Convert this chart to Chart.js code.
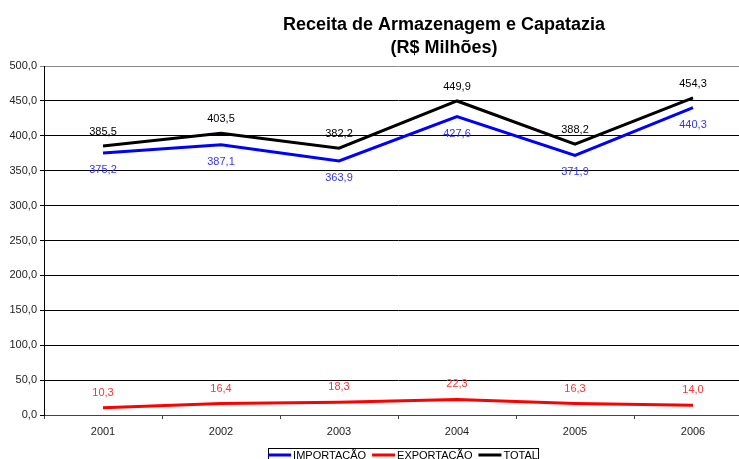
<!DOCTYPE html>
<html>
<head>
<meta charset="utf-8">
<script src="https://cdn.jsdelivr.net/npm/chart.js@4.4.0/dist/chart.umd.min.js"></script>
<style>
  html, body { margin: 0; padding: 0; background: #fff; overflow: hidden; }
  #wrap { width: 806px; height: 475px; }
</style>
</head>
<body>
<div id="wrap"><canvas id="receitaChart" width="806" height="475"></canvas></div>
<script>
const anos = ['2001', '2002', '2003', '2004', '2005', '2006'];
const importacao = [375.2, 387.1, 363.9, 427.6, 371.9, 440.3];
const exportacao = [10.3, 16.4, 18.3, 22.3, 16.3, 14.0];
const total = [385.5, 403.5, 382.2, 449.9, 388.2, 454.3];
const tituloLinhas = ['Receita de Armazenagem e Capatazia', '(R$ Milhões)'];

const FONTE = "'Liberation Sans', Arial, sans-serif";

function fmt(v) {
    return v.toFixed(1).replace('.', ',');
}

// rótulos de valor em cada ponto
const rotulosPlugin = {
    id: 'rotulos',
    afterDatasetsDraw(chart) {
        const ctx = chart.ctx;
        ctx.save();
        ctx.font = '11px ' + FONTE;
        ctx.textAlign = 'center';
        ctx.textBaseline = 'middle';
        chart.data.datasets.forEach((ds, i) => {
            const meta = chart.getDatasetMeta(i);
            ctx.fillStyle = ds.labelColor;
            meta.data.forEach((pt, j) => {
                ctx.fillText(fmt(ds.data[j]), pt.x, pt.y + ds.labelOffset);
            });
        });
        ctx.restore();
    }
};

// título e legenda desenhados à mão para acertar a posição
const extrasPlugin = {
    id: 'extras',
    afterDraw(chart) {
        const ctx = chart.ctx;
        ctx.save();
        ctx.fillStyle = '#000';
        ctx.font = 'bold 18px ' + FONTE;
        ctx.textAlign = 'center';
        ctx.textBaseline = 'middle';
        ctx.fillText(tituloLinhas[0], 444, 25);
        ctx.fillText(tituloLinhas[1], 444, 48);

        // legenda
        ctx.font = '11px ' + FONTE;
        ctx.textAlign = 'left';
        const linha = 23, gap = 2, entre = 6;
        let larg = 0;
        const itens = chart.data.datasets.map(ds => {
            const w = ctx.measureText(ds.label).width;
            larg += linha + gap + w;
            return { ds, w };
        });
        larg += entre * (itens.length - 1);
        const bx = 268, by = 448, bw = 270, bh = 22;
        ctx.strokeStyle = '#000';
        ctx.lineWidth = 1;
        ctx.strokeRect(bx + 0.5, by + 0.5, bw, bh);
        let x = bx + (bw - larg) / 2;
        const y = by + 7;
        itens.forEach(it => {
            ctx.strokeStyle = it.ds.borderColor;
            ctx.lineWidth = 3;
            ctx.beginPath();
            ctx.moveTo(x, y);
            ctx.lineTo(x + linha, y);
            ctx.stroke();
            x += linha + gap;
            ctx.fillStyle = '#000';
            ctx.fillText(it.ds.label, x, y + 1);
            x += it.w + entre;
        });
        ctx.restore();
    }
};

new Chart(document.getElementById('receitaChart').getContext('2d'), {
    type: 'line',
    data: {
        labels: anos,
        datasets: [
            {
                label: 'IMPORTACÃO',
                data: importacao,
                borderColor: '#0000ff',
                labelColor: '#3333ff',
                labelOffset: 17
            },
            {
                label: 'EXPORTACÃO',
                data: exportacao,
                borderColor: '#ff0000',
                labelColor: '#ff3333',
                labelOffset: -15
            },
            {
                label: 'TOTAL',
                data: total,
                borderColor: '#000000',
                labelColor: '#000000',
                labelOffset: -14
            }
        ]
    },
    options: {
        responsive: false,
        animation: false,
        layout: { padding: { top: 66, bottom: 30, left: 0, right: 54 } },
        elements: {
            line: { borderWidth: 3, tension: 0 },
            point: { radius: 0, hoverRadius: 0 }
        },
        plugins: {
            legend: { display: false },
            title: { display: false },
            tooltip: { enabled: false }
        },
        scales: {
            x: {
                offset: true,
                grid: {
                    offset: true,
                    drawOnChartArea: false,
                    drawTicks: true,
                    tickLength: 4,
                    color: '#444'
                },
                border: { color: '#444', width: 1 },
                ticks: {
                    color: '#222',
                    font: { family: FONTE, size: 11 },
                    padding: 6,
                    maxRotation: 0
                },
                afterFit(scale) { scale.height = 30; }
            },
            y: {
                min: 0,
                max: 500,
                ticks: {
                    stepSize: 50,
                    color: '#222',
                    font: { family: FONTE, size: 11 },
                    padding: 3,
                    callback: v => fmt(v)
                },
                grid: {
                    color: ctx => (ctx.tick && ctx.tick.value === 500) ? '#888' : '#000',
                    lineWidth: 1,
                    tickLength: 4
                },
                border: { color: '#000', width: 1 },
                afterFit(scale) { scale.width = 44; }
            }
        }
    },
    plugins: [rotulosPlugin, extrasPlugin]
});
</script>
</body>
</html>
